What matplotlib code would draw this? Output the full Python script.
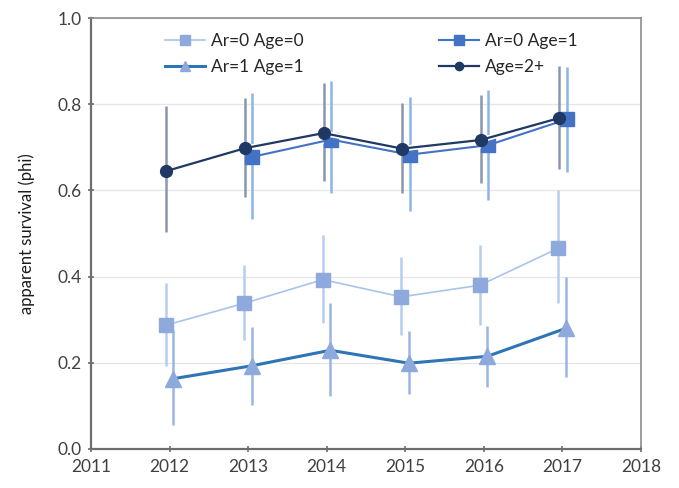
import matplotlib
matplotlib.use("Agg")
import matplotlib.pyplot as plt
import numpy as np

plt.rcParams['font.family'] = ['Lato', 'DejaVu Sans']

years = [2012, 2013, 2014, 2015, 2016, 2017]

# Ar=0 Age=0
age0 = [0.287, 0.338, 0.393, 0.353, 0.380, 0.466]
age0_lo = [0.193, 0.253, 0.293, 0.265, 0.288, 0.338]
age0_hi = [0.386, 0.427, 0.497, 0.445, 0.473, 0.601]

# Ar=0 Age=1
age1_years = [2013, 2014, 2015, 2016, 2017]
age1 = [0.678, 0.718, 0.683, 0.705, 0.765]
age1_lo = [0.534, 0.594, 0.553, 0.578, 0.643]
age1_hi = [0.826, 0.854, 0.816, 0.833, 0.886]

# Ar=1 Age=1
ar1 = [0.163, 0.193, 0.229, 0.199, 0.215, 0.280]
ar1_lo = [0.056, 0.102, 0.123, 0.128, 0.144, 0.167]
ar1_hi = [0.276, 0.283, 0.339, 0.274, 0.285, 0.399]

# Age=2+
age2 = [0.645, 0.698, 0.733, 0.697, 0.717, 0.768]
age2_lo = [0.503, 0.585, 0.622, 0.594, 0.617, 0.650]
age2_hi = [0.796, 0.814, 0.849, 0.803, 0.821, 0.889]

fig = plt.figure(figsize=(6.79, 4.88), dpi=100)
ax = fig.add_axes([0.134, 0.080, 0.810, 0.883])

def draw(xs, ys, lo, hi, dx, line_c, lw, marker, mfc, ms, err_c, label, z):
    x = np.array(xs, dtype=float) + dx
    y = np.array(ys)
    yerr = [y - np.array(lo), np.array(hi) - y]
    ax.errorbar(x, y, yerr=yerr, fmt='none', ecolor=err_c, elinewidth=1.8,
                capsize=0, zorder=2)
    # white halo under the connecting line
    ax.plot(x, y, color='white', lw=lw + 2.4, solid_capstyle='round', zorder=z)
    h, = ax.plot(x, y, color=line_c, lw=lw, marker=marker, mfc=mfc, mec=mfc,
                 ms=ms, zorder=z + 0.1, label=label)
    return h

h0 = draw(years, age0, age0_lo, age0_hi, -0.05, '#a9c4ea', 1.2, 's', '#8eaadc',
          9.5, '#b7cdee', 'Ar=0 Age=0', 3)
h3 = draw(years, ar1, ar1_lo, ar1_hi, 0.045, '#2e75b6', 2.2, '^', '#8eaadc',
          11, '#9bb6e3', 'Ar=1 Age=1', 3.2)
h1 = draw(age1_years, age1, age1_lo, age1_hi, 0.055, '#4472c4', 1.5, 's', '#4472c4',
          9.5, '#8db4e6', 'Ar=0 Age=1', 3.4)
h2 = draw(years, age2, age2_lo, age2_hi, -0.04, '#1f3864', 1.6, 'o', '#1f3864',
          8.5, '#8a96ad', 'Age=2+', 3.6)

ax.set_xlim(2011, 2018)
ax.set_ylim(0.0, 1.0)
ax.set_xticks(range(2011, 2019))
yt = [0.0, 0.2, 0.4, 0.6, 0.8, 1.0]
ax.set_yticks(yt)
ax.set_yticklabels([f"{v:.1f}" for v in yt])
ax.tick_params(axis='both', labelsize=12.5, colors='#6e6e6e', length=5, width=1.2,
               direction='inout')
ax.tick_params(axis='x', pad=5)
ax.tick_params(axis='y', pad=4)
for lab in ax.get_xticklabels() + ax.get_yticklabels():
    lab.set_color('#404040')

ax.grid(axis='y', color='#e6e6e6', lw=0.9)
ax.set_axisbelow(True)
for side in ['left', 'bottom']:
    ax.spines[side].set_color('#6e6e6e')
    ax.spines[side].set_linewidth(1.6)
for side in ['top', 'right']:
    ax.spines[side].set_color('#8c8c8c')
    ax.spines[side].set_linewidth(1.2)

ax.set_ylabel('apparent survival (phi)', fontsize=12, color='#1a1a1a', labelpad=16)

leg = ax.legend(handles=[h0, h3, h1, h2], ncol=2, loc='upper left',
                bbox_to_anchor=(0.1345, 0.966), frameon=False, fontsize=12.5,
                handlelength=2.3, columnspacing=7.8, handletextpad=0.35,
                labelspacing=0.6, markerscale=0.7, borderpad=0,
                borderaxespad=0)
for t in leg.get_texts():
    t.set_color('#262626')

fig.savefig('out.png', dpi=100)
